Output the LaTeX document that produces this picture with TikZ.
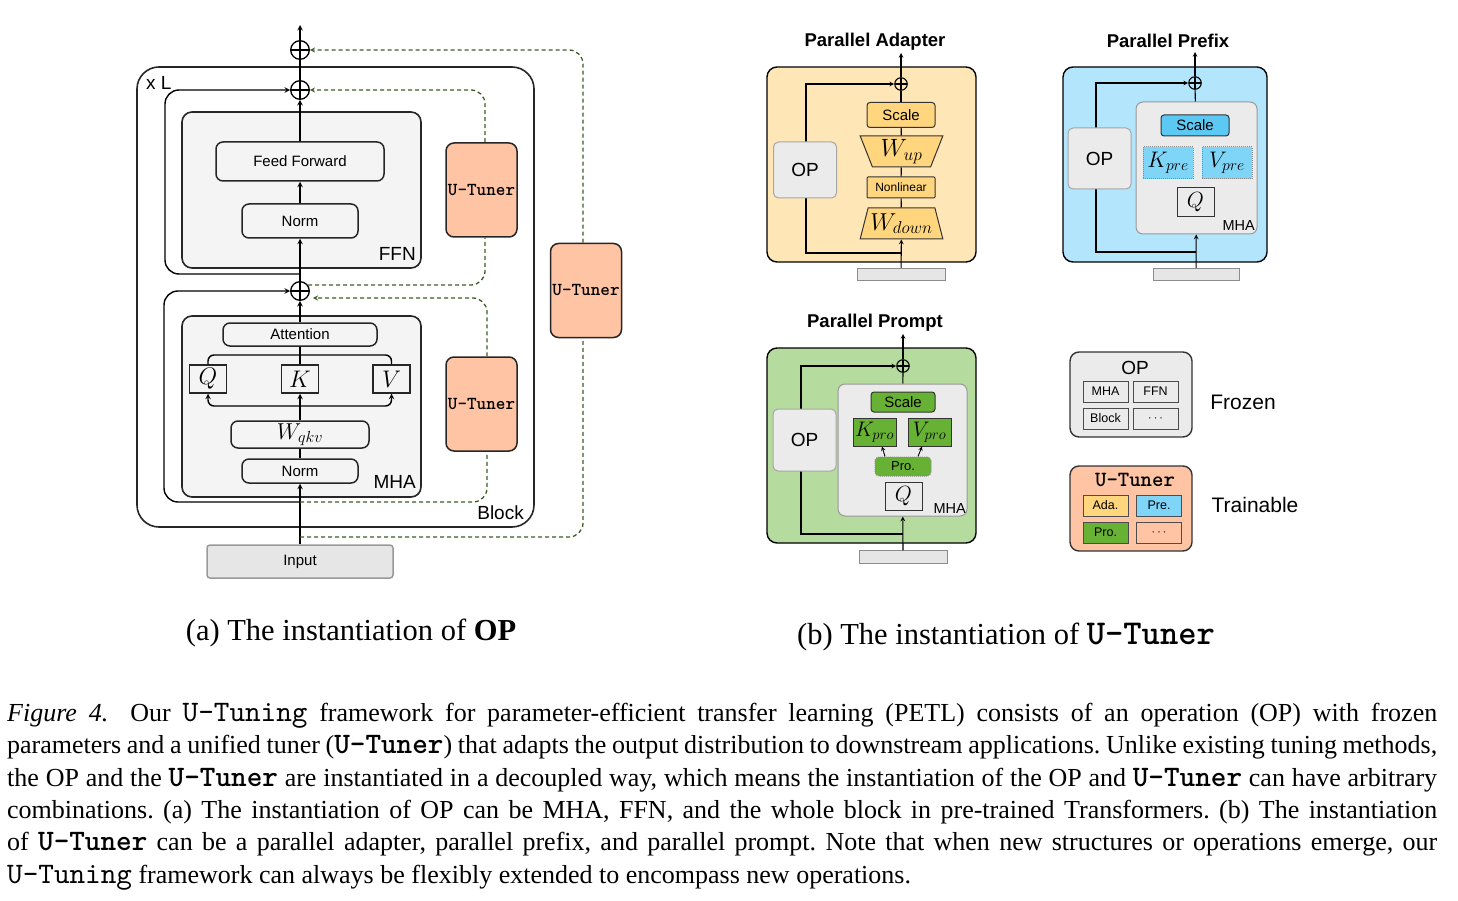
\documentclass[tikz,border=0pt]{standalone}
\usepackage{fix-cm}
\usepackage{fontspec}
\setmainfont{Liberation Serif}
\setsansfont{Liberation Sans}
\setmonofont{lmmono10-regular.otf}[Scale=1.143,BoldFont=lmmonolt10-bold.otf]
\usetikzlibrary{shapes.geometric}
\definecolor{tunerpeach}{HTML}{FFC4A4}
\definecolor{opgray}{HTML}{EBEBEB}
\definecolor{ffngray}{HTML}{F4F4F4}
\definecolor{inputgray}{HTML}{E6E6E6}
\definecolor{adaback}{HTML}{FFE6B6}
\definecolor{adabox}{HTML}{FFD57E}
\definecolor{preback}{HTML}{B3E5FC}
\definecolor{prebox}{HTML}{5CC8F4}
\definecolor{prekv}{HTML}{7ED5F7}
\definecolor{proback}{HTML}{B5DB9E}
\definecolor{probox}{HTML}{67B235}
\definecolor{dashgreen}{HTML}{3B5E24}

\begin{document}
\frenchspacing
\begin{tikzpicture}[x=1pt,y=-1pt,
  box/.style={rectangle,draw=black!85,line width=1.5pt,rounded corners=7pt,
    fill=ffngray,inner sep=0pt,font=\sffamily\fontsize{15}{18}\selectfont},
  stage/.style={rectangle,draw=black!85,line width=1.6pt,rounded corners=10pt,fill=ffngray},
  qkv/.style={rectangle,draw=black!85,line width=1.5pt,fill=ffngray,minimum width=37pt,
    minimum height=28pt,inner sep=0pt,font=\fontsize{24}{26}\selectfont},
  tuner/.style={rectangle,draw=black!85,line width=1.5pt,rounded corners=8pt,
    fill=tunerpeach,minimum width=71pt,minimum height=94pt,inner sep=0pt,
    font=\ttfamily\bfseries\fontsize{16}{18}\selectfont},
  plus/.style={circle,draw=black,line width=1.3pt,inner sep=0pt,minimum size=18.6pt,
    path picture={\draw[line width=1.2pt]
      (path picture bounding box.north) -- (path picture bounding box.south)
      (path picture bounding box.west) -- (path picture bounding box.east);}},
  sml/.style={plus,line width=1.1pt,minimum size=12.5pt},
  arr/.style={->,>=stealth,line width=1.4pt},
  parr/.style={->,>=stealth,line width=1.1pt},
  tunearr/.style={draw=dashgreen,line width=1.3pt,dash pattern=on 4pt off 3pt,>=stealth},
  lbl/.style={anchor=base east,inner sep=0pt,font=\sffamily\fontsize{19}{22}\selectfont},
  panel/.style={rectangle,draw=black,line width=1.4pt,rounded corners=10pt,
    minimum width=206pt,minimum height=195pt},
  chip/.style={rectangle,draw=black!80,line width=1pt,rounded corners=3pt,inner sep=0pt,
    font=\sffamily\fontsize{15}{18}\selectfont},
  opbox/.style={rectangle,draw=black!35,line width=1pt,fill=opgray,rounded corners=5pt,
    minimum width=63pt,font=\sffamily\fontsize{19}{22}\selectfont},
  mhabox/.style={rectangle,draw=black!40,line width=1pt,fill=opgray,rounded corners=7pt},
  bar/.style={rectangle,draw=black!45,line width=1pt,fill=inputgray,minimum width=88pt,
    minimum height=12.5pt,inner sep=0pt},
  trap/.style={trapezium,trapezium stretches=true,trapezium left angle=70,
    trapezium right angle=70,draw=black!80,line width=1pt,fill=adabox,
    minimum width=83pt,minimum height=31pt,inner sep=0pt},
  title/.style={font=\sffamily\bfseries\fontsize{18.5}{22}\selectfont},
  keybox/.style={rectangle,draw=black!80,line width=1.4pt,rounded corners=9pt,
    minimum width=122pt,minimum height=85pt},
  keychip/.style={rectangle,draw=black!70,line width=1pt,minimum width=45pt,
    minimum height=21pt,inner sep=0pt,font=\sffamily\fontsize{12.5}{14}\selectfont},
  side/.style={font=\sffamily\fontsize{21}{24}\selectfont}]

  \useasboundingbox (0,0) rectangle (1458,901);

  % (a) the OP inside a Transformer block
  \node[draw=black!85,line width=1.6pt,rounded corners=22pt,minimum width=397pt,
    minimum height=460pt] (block) at (335.5,297) {};
  \node[stage,minimum width=239pt,minimum height=156pt] (ffn) at (301.5,190) {};
  \node[stage,minimum width=239pt,minimum height=181pt] (mha) at (301.5,406.5) {};
  \node[lbl] (ffnlbl) at (416,261) {FFN};
  \node[lbl] (mhalbl) at (416,488) {MHA};
  \node[lbl] (blocklbl) at (524,519) {Block};
  \node[lbl,anchor=base west] (rep) at (146,90) {x L};

  \node[box,draw=black!40,fill=inputgray,rounded corners=3pt,minimum width=186pt,
    minimum height=33pt] (input) at (300,561.5) {Input};
  \node[box,minimum width=116pt,minimum height=24pt] (mnorm) at (300,471) {Norm};
  \node[box,minimum width=138pt,minimum height=27pt,font=\fontsize{23}{25}\selectfont]
    (wqkv) at (300,434.5) {$W_{qkv}$};
  \node[qkv] (q) at (208,379) {$Q$};
  \node[qkv] (k) at (300,379) {$K$};
  \node[qkv] (v) at (391.5,379) {$V$};
  \node[box,minimum width=154pt,minimum height=23pt] (attn) at (300,334.5) {Attention};
  \node[plus] (plusm) at (300,291) {};
  \node[box,minimum width=116pt,minimum height=34pt] (fnorm) at (300,221) {Norm};
  \node[box,minimum width=168pt,minimum height=39pt] (ff) at (300,161.5) {Feed Forward};
  \node[plus] (plusf) at (300,90) {};
  \node[plus] (plusb) at (300,50) {};
  \node[tuner] (tunf) at (481.5,190) {U-Tuner};
  \node[tuner] (tunm) at (481.5,404) {U-Tuner};
  \node[tuner] (tunb) at (586,290.5) {U-Tuner};

  \coordinate (out) at (300,25);
  \coordinate (mres) at (300,502);
  \coordinate (fres) at (300,274);
  \coordinate (bres) at (300,537);
  \coordinate (fdash) at (308,285);
  \coordinate (qkvup) at (300,355);
  \coordinate (qkvdown) at (300,406);

  \draw[arr] (input) -- (mnorm);
  \draw[line width=1.4pt] (mnorm) -- (wqkv);
  \draw[arr] (wqkv) -- (k);
  \draw[arr,rounded corners=6pt] (qkvdown) -| (q);
  \draw[arr,rounded corners=6pt] (qkvdown) -| (v);
  \draw[line width=1.4pt,rounded corners=6pt] (q) |- (qkvup) -| (v);
  \draw[line width=1.4pt] (k) -- (attn);
  \draw[arr] (attn) -- (plusm);
  \draw[arr,rounded corners=14pt] (mres) -- ++(-136,0) |- (plusm);
  \draw[arr] (plusm) -- (fnorm);
  \draw[arr] (fnorm) -- (ff);
  \draw[arr] (ff) -- (plusf);
  \draw[arr,rounded corners=14pt] (fres) -- ++(-135,0) |- (plusf);
  \draw[line width=1.4pt] (plusf) -- (plusb);
  \draw[arr] (plusb) -- (out);

  \draw[tunearr,rounded corners=14pt] (fdash) -| ([xshift=3.5pt]tunf.south);
  \draw[tunearr,->,rounded corners=14pt] ([xshift=3.5pt]tunf.north) |- (plusf);
  \draw[tunearr,rounded corners=14pt] (mres) -| ([xshift=5.5pt]tunm.south);
  \draw[tunearr,->,rounded corners=14pt] ([xshift=5.5pt]tunm.north)
    |- ([shift={(3pt,-7pt)}]plusm.east);
  \draw[tunearr,rounded corners=14pt] (bres) -| ([xshift=-3pt]tunb.south);
  \draw[tunearr,->,rounded corners=14pt] ([xshift=-3pt]tunb.north) |- (plusb);

  % (b) parallel adapter
  \node[title] (adatitle) at (875,42) {Parallel Adapter};
  \node[panel,fill=adaback,minimum width=209pt] (ada) at (871.5,164.5) {};
  \node[bar] (adain) at (901,274.5) {};
  \coordinate (adaout) at (901,53);
  \coordinate (adaskip) at (901,253);
  \node[sml] (adaplus) at (901,84) {};
  \draw[parr] (adaskip) -- ++(-95,0) |- (adaplus);
  \node[opbox,minimum height=56pt] (adaop) at (805,170) {OP};
  \node[trap,font=\fontsize{24.5}{26}\selectfont] (wdown) at (901.5,223.5) {$W_{down}$};
  \node[chip,fill=adabox,minimum width=68pt,minimum height=21pt,rounded corners=1pt,
    font=\sffamily\fontsize{12}{14}\selectfont] (nonlin) at (901,187.5) {Nonlinear};
  \node[trap,shape border rotate=180,font=\fontsize{25}{27}\selectfont] (wup)
    at (901.5,151.5) {$W_{up}$};
  \node[chip,fill=adabox,minimum width=68pt,minimum height=25pt] (adascale)
    at (901,115) {Scale};
  \draw[parr] (adain) -- (wdown);
  \draw[line width=1.1pt] (wdown) -- (nonlin);
  \draw[line width=1.1pt] (nonlin) -- (wup);
  \draw[line width=1.1pt] (wup) -- (adascale);
  \draw[line width=1.1pt] (adascale) -- (adaplus);
  \draw[parr] (adaplus) -- (adaout);

  % (b) parallel prefix
  \node[title] (pretitle) at (1168,41) {Parallel Prefix};
  \node[panel,fill=preback,minimum width=204pt] (pre) at (1165,164.5) {};
  \node[bar,minimum width=86pt] (prein) at (1196,274.5) {};
  \coordinate (preout) at (1195,52);
  \coordinate (preskip) at (1196,252);
  \node[sml] (preplus) at (1195,83) {};
  \draw[parr] (preskip) -- ++(-100,0) |- (preplus);
  \node[opbox,minimum height=61pt] (preop) at (1099.5,158.5) {OP};
  \node[mhabox,minimum width=121pt,minimum height=132pt] (premha) at (1196.5,168) {};
  \node[lbl,font=\sffamily\fontsize{14.5}{16}\selectfont] (premhalbl) at (1255,231) {MHA};
  \node[chip,fill=prebox,minimum width=68pt,minimum height=21pt] (prescale)
    at (1195,125.5) {Scale};
  \node[chip,fill=prekv,draw=black!45,densely dotted,rounded corners=0pt,
    minimum width=50pt,minimum height=32pt,font=\fontsize{22.5}{24}\selectfont]
    (kpre) at (1168,163) {$K_{pre}$};
  \node[chip,fill=prekv,draw=black!45,densely dotted,rounded corners=0pt,
    minimum width=50pt,minimum height=32pt,font=\fontsize{22.5}{24}\selectfont]
    (vpre) at (1227,163) {$V_{pre}$};
  \node[chip,fill=opgray,rounded corners=0pt,minimum width=37pt,minimum height=29pt,
    font=\fontsize{22}{24}\selectfont] (preq) at (1195.5,202.5) {$Q$};
  \draw[parr] (prein) -- (premha);
  \draw[line width=1.1pt] (premha) -- (preplus);
  \draw[parr] (preplus) -- (preout);

  % (b) parallel prompt
  \node[title] (protitle) at (875,323) {Parallel Prompt};
  \node[panel,fill=proback,minimum width=209pt] (pro) at (871.5,445.5) {};
  \node[bar] (proin) at (903,557) {};
  \coordinate (proout) at (903,334);
  \coordinate (proskip) at (903,534);
  \node[sml] (proplus) at (903,366) {};
  \draw[parr] (proskip) -- ++(-102,0) |- (proplus);
  \node[opbox,minimum height=62pt] (proop) at (804.5,440) {OP};
  \node[mhabox,minimum width=129pt,minimum height=132pt] (promha) at (902.5,450) {};
  \node[lbl,font=\sffamily\fontsize{14.5}{16}\selectfont] (promhalbl) at (966,513) {MHA};
  \node[chip,fill=probox,minimum width=64pt,minimum height=20pt] (proscale)
    at (903,402) {Scale};
  \node[chip,fill=probox,rounded corners=0pt,minimum width=43pt,minimum height=28pt,
    font=\fontsize{21}{23}\selectfont] (kpro) at (874.5,432) {$K_{pro}$};
  \node[chip,fill=probox,rounded corners=0pt,minimum width=43pt,minimum height=28pt,
    font=\fontsize{21}{23}\selectfont] (vpro) at (929.5,432) {$V_{pro}$};
  \node[chip,fill=probox,draw=black!45,densely dotted,rounded corners=4pt,
    minimum width=56pt,minimum height=19pt,font=\sffamily\fontsize{13}{15}\selectfont]
    (prompt) at (903,466.5) {Pro.};
  \node[chip,fill=opgray,rounded corners=0pt,minimum width=37pt,minimum height=28pt,
    font=\fontsize{22}{24}\selectfont] (proq) at (903.5,496) {$Q$};
  \draw[->,>=stealth,line width=0.9pt] ([xshift=-18pt]prompt.north) -- ([xshift=7.5pt]kpro.south);
  \draw[->,>=stealth,line width=0.9pt] ([xshift=15pt]prompt.north) -- ([xshift=-7.5pt]vpro.south);
  \draw[parr] (proin) -- (promha);
  \draw[line width=1.1pt] (promha) -- (proplus);
  \draw[parr] (proplus) -- (proout);

  % legend
  \node[keybox,fill=opgray] (frozen) at (1131,394.5) {};
  \node[font=\sffamily\fontsize{19}{22}\selectfont] (frozenop) at (1135,367.5) {OP};
  \node[keychip,fill=opgray] (kmha) at (1105.5,391.5) {MHA};
  \node[keychip,fill=opgray] (kffn) at (1155.5,391.5) {FFN};
  \node[keychip,fill=opgray] (kblock) at (1105.5,418.5) {Block};
  \node[keychip,fill=opgray] (kmore) at (1155.5,418.5) {$\cdots$};
  \node[side] (frozenlbl) at (1243,402) {Frozen};
  \node[keybox,fill=tunerpeach] (trainable) at (1131,508.5) {};
  \node[font=\ttfamily\bfseries\fontsize{19}{22}\selectfont] (trainut) at (1135,480) {U-Tuner};
  \node[keychip,fill=adabox] (kada) at (1105.5,505.5) {Ada.};
  \node[keychip,fill=prekv] (kpre) at (1159,505.5) {Pre.};
  \node[keychip,fill=probox] (kpro) at (1105.5,532.5) {Pro.};
  \node[keychip,fill=tunerpeach] (kmore2) at (1159,532.5) {$\cdots$};
  \node[side] (trainlbl) at (1255,505) {Trainable};

  % captions
  \node[font=\rmfamily\fontsize{30.5}{34}\selectfont] (capa) at (351,633)
    {(a) The instantiation of \textbf{OP}};
  \node[font=\rmfamily\fontsize{30.5}{34}\selectfont] (capb) at (1006,637)
    {(b) The instantiation of \texttt{\textbf{U-Tuner}}};
  \node[anchor=north west,inner sep=0pt,text width=1430pt,align=justify,
    font=\rmfamily\fontsize{26}{32.3}\selectfont] (figcap) at (7,703)
    {\textit{Figure 4.}\hspace{0.4em} Our \texttt{U-Tuning} framework for parameter-efficient
    transfer learning (PETL) consists of an operation (OP) with frozen\linebreak
    parameters and a unified tuner (\texttt{\textbf{U-Tuner}}) that adapts the output
    distribution to downstream applications. Unlike existing tuning methods,\linebreak
    the OP and the \texttt{\textbf{U-Tuner}} are instantiated in a decoupled way, which means
    the instantiation of the OP and \texttt{\textbf{U-Tuner}} can have arbitrary\linebreak
    combinations. (a) The instantiation of OP can be MHA, FFN, and the whole block in
    pre-trained Transformers. (b) The instantiation\linebreak
    of \texttt{\textbf{U-Tuner}} can be a parallel adapter, parallel prefix, and parallel
    prompt. Note that when new structures or operations emerge, our\linebreak
    \texttt{U-Tuning} framework can always be flexibly extended to encompass new operations.};
\end{tikzpicture}
\end{document}
